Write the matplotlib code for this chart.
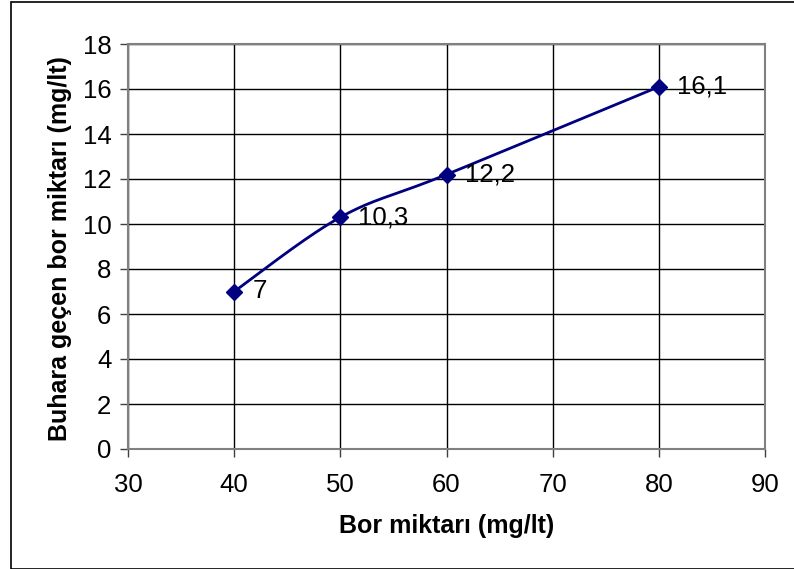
import numpy as np
import matplotlib.pyplot as plt
from matplotlib.patches import Rectangle

plt.rcParams['font.family'] = ['Liberation Sans', 'DejaVu Sans']

bor = [40, 50, 60, 80]
buhar = [7, 10.3, 12.2, 16.1]
etiketler = ['7', '10,3', '12,2', '16,1']

fig = plt.figure(figsize=(7.94, 5.69), dpi=100)
ax = fig.add_axes([128 / 794, 1 - 449 / 569, (765 - 128) / 794, (449 - 44) / 569])

# Excel benzeri yumusatilmis cizgi (Bezier, gerilim 1/6)
px = np.array(bor, dtype=float)
py = np.array(buhar, dtype=float)
# olcekli koordinatlarda hesapla
sx = (px - 30) / 60.0 * 637
sy = py / 18.0 * 405
pts = np.column_stack([sx, sy])
n = len(pts)
xs, ys = [], []
t = np.linspace(0, 1, 60)
for i in range(n - 1):
    p0 = pts[i - 1] if i > 0 else pts[i]
    p1 = pts[i]
    p2 = pts[i + 1]
    p3 = pts[i + 2] if i + 2 < n else pts[i + 1]
    c1 = p1 + (p2 - p0) / 6
    c2 = p2 - (p3 - p1) / 6
    b = ((1 - t) ** 3)[:, None] * p1 + (3 * (1 - t) ** 2 * t)[:, None] * c1 \
        + (3 * (1 - t) * t ** 2)[:, None] * c2 + (t ** 3)[:, None] * p2
    xs.extend(b[:, 0])
    ys.extend(b[:, 1])
xs = np.array(xs) / 637 * 60 + 30
ys = np.array(ys) / 405 * 18

ax.plot(xs, ys, color='#000080', lw=2, zorder=3)
ax.plot(bor, buhar, linestyle='none', marker='D', ms=8, color='#000080', zorder=4)
for x, y, s in zip(bor, buhar, etiketler):
    ax.annotate(s, (x, y), xytext=(13, 0), textcoords='offset points',
                va='center', ha='left', fontsize=18.5)

ax.set_xlim(30, 90)
ax.set_ylim(0, 18)
ax.set_xticks(range(30, 91, 10))
ax.set_yticks(range(0, 19, 2))
ax.grid(True, color='black', lw=1)
ax.set_axisbelow(True)
for sp in ax.spines.values():
    sp.set_color('#808080')
    sp.set_linewidth(1.5)
ax.tick_params(labelsize=18.5, length=6, width=1, color='#404040', direction='out')
ax.tick_params(axis='y', pad=6)
ax.tick_params(axis='x', pad=11)
ax.set_xlabel('Bor miktarı (mg/lt)', fontsize=18, fontweight='bold')
ax.set_ylabel('Buhara geçen bor miktarı (mg/lt)', fontsize=18, fontweight='bold')
ax.xaxis.set_label_coords((447 - 128) / 637, (449 - 526) / 405)
ax.xaxis.label.set_va('center')
ax.yaxis.set_label_coords((60 - 128) / 637, 0.495)
ax.yaxis.label.set_va('center')

fig.patches.append(Rectangle((11 / 794, 0), 1, 1 - 2 / 569, transform=fig.transFigure,
                             fill=False, edgecolor='black', lw=1.2))

fig.savefig('out.png', dpi=100)
